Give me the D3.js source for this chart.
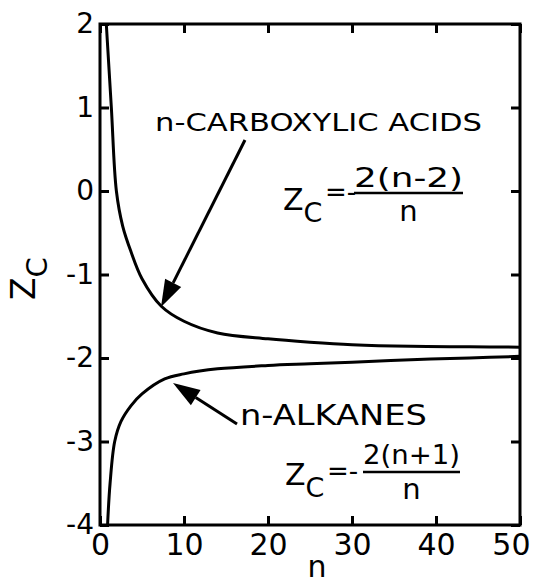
<!DOCTYPE html>
<html>
<head>
<meta charset="utf-8">
<script src="https://cdn.jsdelivr.net/npm/d3@7"></script>
<style>
  body { margin: 0; background: #fff; }
  text { font-family: "DejaVu Sans", sans-serif; fill: #000; }
</style>
</head>
<body>
<svg id="chart" width="534" height="585"></svg>
<script>
// values
const acidN = [0.75, 1.35, 1.95, 2.7, 3.7, 5, 7.3, 10, 14, 20, 25, 30, 37, 44, 50];
const acidZ = [2, 1, 0, -0.42, -0.73, -1.05, -1.38, -1.56, -1.7, -1.77, -1.81, -1.84, -1.86, -1.865, -1.87];
const alkN = [0.9, 1.2, 1.75, 2.5, 3.7, 5, 7.7, 10, 14, 20, 25, 30, 37, 44, 50];
const alkZ = [-4, -3.5, -3.0, -2.76, -2.57, -2.43, -2.25, -2.19, -2.13, -2.09, -2.07, -2.05, -2.02, -2.0, -1.98];
const xTicks = [0, 10, 20, 30, 40, 50];
const yTicks = [-4, -3, -2, -1, 0, 1, 2];

const svg = d3.select("#chart");
const m = { left: 100, right: 520, top: 24, bottom: 525 };

const x = d3.scaleLinear().domain([0, 50]).range([m.left, m.right]);
const y = d3.scaleLinear().domain([-4, 2]).range([m.bottom, m.top]);

// axes with inward ticks on all four sides
function styleAxis(g) {
  g.select(".domain").remove();
  g.selectAll(".tick line").attr("stroke", "#000").attr("stroke-width", 3);
}

svg.append("g")
  .attr("transform", `translate(${m.left},0)`)
  .call(d3.axisLeft(y).tickValues(yTicks).tickFormat(d => String(d))
    .tickSizeInner(-9).tickSizeOuter(0).tickPadding(6))
  .call(styleAxis)
  .selectAll("text").attr("font-size", 28).attr("font-family", "DejaVu Sans");

svg.append("g")
  .attr("transform", `translate(${m.right},0)`)
  .call(d3.axisRight(y).tickValues(yTicks).tickSizeInner(-9).tickSizeOuter(0).tickFormat(""))
  .call(styleAxis);

const xAxis = svg.append("g")
  .attr("transform", `translate(0,${m.bottom})`)
  .call(d3.axisBottom(x).tickValues(xTicks).tickFormat(d => String(d))
    .tickSizeInner(-9).tickSizeOuter(0).tickPadding(9))
  .call(styleAxis);
xAxis.selectAll("text").attr("font-size", 30).attr("font-family", "DejaVu Sans");
xAxis.selectAll(".tick").filter(d => d === 50).select("text")
  .attr("text-anchor", "end").attr("x", 10);

svg.append("g")
  .attr("transform", `translate(0,${m.top})`)
  .call(d3.axisTop(x).tickValues(xTicks).tickSizeInner(-9).tickSizeOuter(0).tickFormat(""))
  .call(styleAxis);

svg.append("rect")
  .attr("x", m.left).attr("y", m.top)
  .attr("width", m.right - m.left).attr("height", m.bottom - m.top)
  .attr("fill", "none").attr("stroke", "#000").attr("stroke-width", 3);

// curves
const line = d3.line()
  .x(d => x(d[0]))
  .y(d => y(d[1]))
  .curve(d3.curveCatmullRom.alpha(0.5));

svg.append("path")
  .datum(d3.zip(acidN, acidZ))
  .attr("d", line)
  .attr("fill", "none").attr("stroke", "#000").attr("stroke-width", 3);

svg.append("path")
  .datum(d3.zip(alkN, alkZ))
  .attr("d", line)
  .attr("fill", "none").attr("stroke", "#000").attr("stroke-width", 3);

// axis titles
const yTitle = svg.append("text")
  .attr("transform", "translate(35,300) rotate(-90)")
  .attr("font-size", 33);
yTitle.append("tspan").text("Z");
yTitle.append("tspan").attr("dy", 12).attr("font-size", 29).text("C");

svg.append("text")
  .attr("x", 317).attr("y", 577)
  .attr("text-anchor", "middle")
  .attr("font-size", 30)
  .text("n");

// arrows pointing at the curves
function arrow(x1, y1, x2, y2) {
  const a = Math.atan2(y2 - y1, x2 - x1);
  const len = 27, half = 9;
  const bx = x2 - len * Math.cos(a), by = y2 - len * Math.sin(a);
  svg.append("line")
    .attr("x1", x1).attr("y1", y1).attr("x2", bx).attr("y2", by)
    .attr("stroke", "#000").attr("stroke-width", 3);
  svg.append("path")
    .attr("d", `M${x2},${y2}L${bx + half * Math.sin(a)},${by - half * Math.cos(a)}L${bx - half * Math.sin(a)},${by + half * Math.cos(a)}Z`)
    .attr("fill", "#000");
}

arrow(245, 140, 161, 307);
arrow(237, 424, 173, 383);

svg.append("text")
  .attr("x", 155).attr("y", 131)
  .attr("font-size", 25)
  .attr("textLength", 327).attr("lengthAdjust", "spacingAndGlyphs")
  .text("n-CARBOXYLIC ACIDS");

svg.append("text")
  .attr("x", 240).attr("y", 425)
  .attr("font-size", 29)
  .attr("textLength", 187).attr("lengthAdjust", "spacingAndGlyphs")
  .text("n-ALKANES");

// formulas
function formula(zx, zy, num, numY, barY, barX1, barX2, denY) {
  const t = svg.append("text").attr("x", zx).attr("y", zy).attr("font-size", 30);
  t.append("tspan").text("Z");
  t.append("tspan").attr("dy", 12).attr("font-size", 27).text("C");
  svg.append("text")
    .attr("x", zx + 42).attr("y", barY + 8)
    .attr("font-size", 26)
    .text("=-");
  svg.append("text")
    .attr("x", barX1).attr("y", numY)
    .attr("font-size", 27)
    .attr("textLength", barX2 - barX1).attr("lengthAdjust", "spacingAndGlyphs")
    .text(num);
  svg.append("line")
    .attr("x1", barX1).attr("x2", barX2)
    .attr("y1", barY).attr("y2", barY)
    .attr("stroke", "#000").attr("stroke-width", 2.5);
  svg.append("text")
    .attr("x", (barX1 + barX2) / 2).attr("y", denY)
    .attr("text-anchor", "middle")
    .attr("font-size", 29)
    .text("n");
}

formula(283, 210, "2(n-2)", 187, 193, 354, 463, 221);
formula(285, 485, "2(n+1)", 464, 472, 363, 460, 499);
</script>
</body>
</html>
